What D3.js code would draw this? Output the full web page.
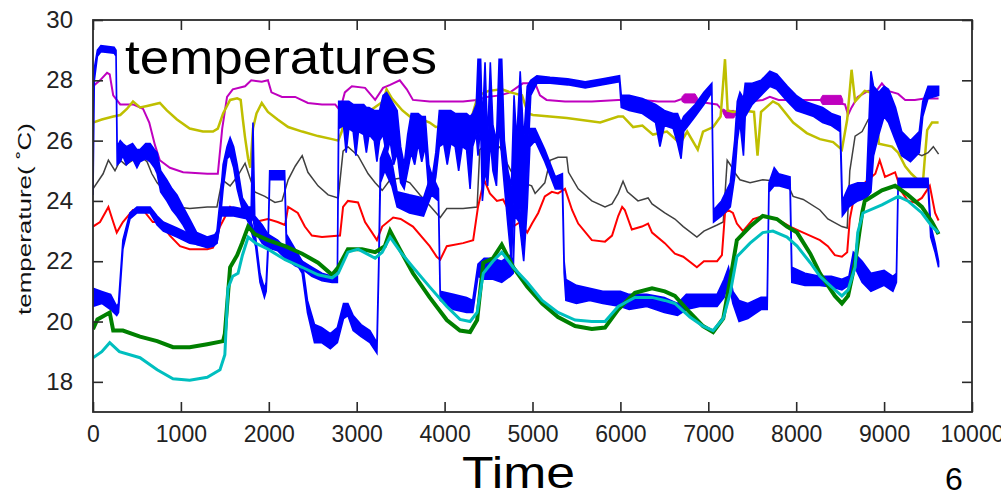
<!DOCTYPE html>
<html><head><meta charset="utf-8">
<script src="https://cdn.jsdelivr.net/npm/d3@7"></script>
<style>body{margin:0;background:#fff;} svg{display:block;font-family:"Liberation Sans",Arial,sans-serif;}</style>
</head><body>
<svg id="c" width="1001" height="497"></svg>
<script>
// ---------- data (time, temperature) ----------
const xTicks = [0,1000,2000,3000,4000,5000,6000,7000,8000,9000,10000];
const yTicks = [18,20,22,24,26,28,30];
const xDomain = [0,10000];
const yDomain = [17,30];

const cyan = [[0,18.8],[100,19.0],[190,19.3],[300,19.0],[535,18.8],[730,18.4],[910,18.1],[1100,18.05],[1300,18.15],[1445,18.4],[1500,18.9],[1535,21.1],[1590,21.5],[1650,21.6],[1700,22.2],[1765,22.8],[1850,22.6],[1990,22.4],[2185,22.05],[2380,21.8],[2560,21.55],[2720,21.45],[2790,21.6],[2900,22.3],[3015,22.4],[3210,22.1],[3290,22.3],[3380,22.8],[3500,22.3],[3640,21.8],[3830,21.15],[4025,20.5],[4175,20.07],[4290,20.0],[4370,20.3],[4440,21.6],[4550,22.0],[4650,22.3],[4780,21.8],[4940,21.3],[5110,20.7],[5290,20.3],[5485,20.05],[5675,20.0],[5825,20.0],[5975,20.5],[6165,20.8],[6360,20.8],[6505,20.7],[6620,20.6],[6790,20.15],[6940,19.85],[7055,19.7],[7170,20.1],[7250,20.95],[7325,22.15],[7475,22.6],[7620,22.95],[7735,23.0],[7895,22.8],[8010,22.5],[8160,21.95],[8270,21.5],[8440,21.05],[8520,20.85],[8590,21.05],[8670,21.8],[8700,22.95],[8760,23.6],[8975,23.87],[9160,24.15],[9270,24.0],[9430,23.6],[9545,23.15],[9620,22.95]];

const green = [[0,19.75],[50,20.07],[190,20.3],[230,19.7],[340,19.7],[535,19.5],[730,19.35],[910,19.15],[1100,19.15],[1300,19.25],[1480,19.35],[1500,19.6],[1560,21.8],[1640,22.2],[1695,22.6],[1765,23.15],[1840,22.9],[1990,22.7],[2185,22.5],[2380,22.25],[2560,21.95],[2720,21.55],[2790,21.8],[2900,22.4],[3060,22.4],[3210,22.3],[3320,22.5],[3380,23.0],[3490,22.4],[3640,21.6],[3830,20.8],[4025,20.05],[4175,19.7],[4290,19.65],[4370,20.05],[4440,21.95],[4550,22.1],[4650,22.55],[4780,21.8],[4940,21.15],[5110,20.6],[5290,20.15],[5485,19.85],[5675,19.75],[5825,19.8],[5975,20.4],[6165,20.95],[6360,21.1],[6505,21.0],[6620,20.85],[6790,20.3],[6940,19.85],[7055,19.65],[7170,20.1],[7250,21.4],[7325,22.7],[7475,23.15],[7620,23.5],[7780,23.4],[7895,23.15],[8010,22.95],[8160,22.25],[8270,21.6],[8440,20.85],[8520,20.6],[8590,20.85],[8670,21.95],[8750,23.6],[8780,24.0],[8975,24.35],[9125,24.5],[9270,24.2],[9430,23.8],[9545,23.3],[9620,22.9]];

const red = [[0,23.15],[80,23.3],[175,23.8],[230,23.3],[270,22.95],[340,23.3],[455,23.7],[570,23.7],[680,23.3],[760,23.3],[875,22.85],[990,22.5],[1100,22.4],[1300,22.4],[1365,22.45],[1445,23.15],[1560,23.8],[1640,23.6],[1730,23.8],[1840,23.3],[1990,23.4],[2100,23.3],[2185,23.2],[2220,23.8],[2330,23.6],[2410,23.15],[2490,22.85],[2605,22.8],[2810,22.85],[2845,23.8],[2900,24.0],[3015,23.95],[3095,23.3],[3175,22.95],[3230,22.7],[3290,23.15],[3415,23.45],[3500,23.4],[3640,23.15],[3830,22.5],[3910,22.15],[3950,22.05],[4025,22.5],[4210,22.6],[4325,22.7],[4380,23.8],[4450,24.7],[4515,24.25],[4595,24.0],[4665,24.05],[4710,23.8],[4780,23.15],[4860,23.3],[4940,22.95],[4995,23.25],[5065,23.6],[5140,24.15],[5220,24.3],[5290,24.25],[5370,24.4],[5450,23.7],[5520,23.25],[5675,22.7],[5825,22.65],[5905,22.85],[5975,23.5],[6020,23.8],[6050,23.7],[6130,23.05],[6245,23.15],[6315,23.25],[6360,22.95],[6505,22.6],[6620,22.25],[6715,22.15],[6870,21.8],[6950,22.0],[7100,22.0],[7155,22.2],[7190,23.6],[7225,23.7],[7280,23.6],[7325,23.25],[7395,23.0],[7510,23.4],[7620,23.5],[7780,23.4],[7930,23.15],[8080,22.95],[8270,22.7],[8360,22.5],[8440,22.2],[8520,22.15],[8580,22.3],[8610,23.4],[8670,24.3],[8780,24.6],[8900,24.9],[8950,25.35],[9010,24.8],[9125,24.95],[9200,24.3],[9270,24.0],[9350,23.95],[9430,24.1],[9520,24.5],[9580,23.6],[9620,23.35]];

const gray = [[0,24.4],[115,24.9],[175,25.35],[250,25.0],[310,25.35],[370,25.2],[535,25.5],[615,25.3],[670,24.9],[730,24.6],[840,24.25],[955,23.8],[1100,23.75],[1300,23.8],[1410,23.8],[1470,24.7],[1560,24.5],[1640,24.8],[1730,25.25],[1840,24.3],[1955,24.15],[2070,23.95],[2150,24.0],[2220,24.7],[2300,25.15],[2380,25.5],[2445,24.95],[2560,24.5],[2675,24.2],[2790,24.1],[2845,25.65],[2900,25.8],[3015,25.5],[3130,24.9],[3210,24.6],[3290,24.35],[3380,24.7],[3490,24.75],[3605,24.6],[3720,24.2],[3830,23.85],[3950,23.45],[4025,23.75],[4210,23.75],[4370,23.8],[4400,25.7],[4480,25.9],[4550,25.6],[4630,25.8],[4710,25.25],[4780,24.85],[4890,24.6],[4990,24.5],[5030,24.25],[5140,24.6],[5200,25.35],[5290,25.45],[5390,25.45],[5410,24.95],[5520,24.4],[5675,24.0],[5825,23.8],[5905,23.9],[5975,24.25],[6030,24.65],[6080,24.3],[6200,24.0],[6315,24.1],[6360,23.9],[6505,23.6],[6620,23.4],[6715,23.15],[6870,22.8],[6950,23.0],[7100,23.2],[7170,23.3],[7215,25.35],[7250,25.2],[7310,24.9],[7360,24.7],[7475,24.6],[7620,24.7],[7780,24.65],[7895,24.6],[7965,24.15],[8080,24.05],[8270,23.7],[8360,23.4],[8520,23.15],[8580,23.1],[8610,25.0],[8670,26.15],[8750,26.3],[8820,26.7],[8975,26.9],[9045,26.75],[9125,26.5],[9240,25.9],[9350,25.6],[9430,25.5],[9500,25.6],[9560,25.8],[9620,25.55]];

const magenta = [[0,27.8],[80,28.0],[160,28.25],[190,28.2],[230,27.5],[310,27.2],[455,27.2],[570,27.05],[640,26.6],[705,25.85],[760,25.35],[875,25.1],[1025,24.95],[1300,24.9],[1420,24.9],[1470,26.4],[1525,27.45],[1590,27.7],[1730,27.8],[1800,28.0],[1920,27.95],[1990,28.0],[2030,27.6],[2150,27.45],[2300,27.45],[2445,27.25],[2605,27.2],[2755,27.2],[2810,27.0],[2865,27.6],[2945,27.8],[3095,27.75],[3210,27.35],[3300,27.75],[3380,27.85],[3490,28.0],[3570,27.7],[3640,27.35],[3830,27.3],[4025,27.3],[4210,27.3],[4370,27.35],[4480,27.45],[4630,27.5],[4745,27.6],[4890,27.9],[5030,27.9],[5085,27.5],[5160,27.35],[5370,27.3],[5675,27.3],[5975,27.35],[6245,27.35],[6430,27.3],[6620,27.3],[6720,27.4],[6870,27.3],[7100,27.2],[7160,27.0],[7200,26.85],[7300,26.85],[7360,27.1],[7475,27.3],[7620,27.35],[7700,27.45],[7800,27.35],[8000,27.35],[8200,27.35],[8300,27.35],[8555,27.2],[8590,26.85],[8630,27.1],[8700,27.45],[8820,27.65],[8900,27.6],[8975,27.9],[9045,27.65],[9160,27.55],[9240,27.35],[9350,27.35],[9460,27.4],[9620,27.4]];
// thick noisy stretches of the magenta trace: [time, low, high]
const magentaPatchA = [[6700,27.3,27.45],[6730,27.25,27.55],[6850,27.25,27.55],[6880,27.3,27.4]];
const magentaPatchB = [[7170,26.9,27.05],[7200,26.75,27.0],[7290,26.75,27.0],[7310,26.85,26.95]];
const magentaPatchC = [[8280,27.3,27.4],[8300,27.2,27.5],[8510,27.2,27.5],[8530,27.25,27.35]];

const olive = [[0,26.6],[100,26.7],[230,26.8],[310,26.85],[385,27.05],[455,27.3],[535,27.1],[615,27.15],[760,27.25],[840,27.0],[955,26.7],[1100,26.4],[1250,26.3],[1365,26.3],[1420,26.4],[1480,26.9],[1560,27.35],[1640,27.4],[1680,27.35],[1705,26.7],[1730,26.1],[1765,25.4],[1790,25.1],[1820,26.4],[1860,26.9],[1920,27.25],[1990,26.95],[2100,26.7],[2220,26.45],[2380,26.3],[2560,26.15],[2720,26.05],[2790,26.0],[2830,26.3],[2865,26.75],[2945,26.9],[3015,26.9],[3130,26.95],[3300,27.3],[3340,27.7],[3400,27.4],[3520,27.0],[3605,26.8],[3700,26.75],[3830,26.6],[3900,26.45],[4100,26.5],[4290,26.6],[4380,27.5],[4500,27.65],[4650,27.7],[4750,27.6],[4880,27.5],[4950,26.9],[5005,26.85],[5390,26.75],[5770,26.6],[5975,26.8],[6030,26.8],[6145,26.45],[6250,26.5],[6370,26.2],[6530,26.3],[6680,25.9],[6760,26.3],[6880,25.7],[6940,26.3],[7055,26.45],[7140,26.8],[7190,28.7],[7220,27.0],[7280,26.95],[7400,27.0],[7520,26.95],[7560,25.5],[7600,26.95],[7735,27.3],[7800,27.2],[7965,26.6],[8120,26.25],[8270,26.05],[8420,25.95],[8520,25.7],[8580,26.7],[8630,28.35],[8670,27.3],[8780,27.65],[8900,27.55],[8940,25.9],[9090,25.8],[9160,25.6],[9240,25.15],[9310,24.9],[9385,24.7],[9440,24.55],[9460,25.3],[9490,26.35],[9545,26.6],[9620,26.6]];

// noisy blue traces: [time, low, high]
const blueA = [[0,24.2,24.5],[15,28.0,28.4],[50,28.8,29.0],[90,28.95,29.15],[240,28.9,29.1],[262,28.8,29.0],[275,25.2,25.8],[310,25.3,26.0],[340,25.5,25.9],[380,25.2,25.8],[450,25.4,25.9],[500,25.1,25.7],[535,25.3,25.7],[600,25.4,25.9],[650,25.3,25.9],[700,25.1,25.7],[730,24.9,25.6],[770,24.3,25.0],[840,24.0,24.7],[900,23.7,24.4],[955,23.5,24.2],[1025,23.2,23.8],[1100,22.8,23.4],[1180,22.55,22.95],[1300,22.45,22.8],[1370,22.5,22.8],[1410,22.6,23.0],[1445,23.3,24.0],[1480,24.4,25.2],[1525,25.4,25.8],[1560,25.5,26.1],[1600,25.1,25.8],[1640,24.4,25.2],[1700,23.7,24.1],[1765,23.3,23.8],[1800,23.3,23.8],[1820,23.5,26.6],[1840,23.0,23.5],[1925,22.6,23.2],[1990,22.45,22.9],[2100,22.35,22.7],[2185,22.1,22.45],[2300,21.85,22.2],[2380,21.75,22.0],[2490,21.5,21.8],[2605,21.35,21.6],[2720,21.3,21.5],[2780,21.3,21.6],[2795,26.4,27.3],[2850,26.5,27.3],[2880,25.6,27.3],[2910,26.4,27.3],[2960,26.3,27.2],[2990,25.5,27.2],[3020,26.3,27.2],[3080,26.2,27.2],[3110,25.6,27.1],[3140,26.2,27.1],[3200,26.0,27.0],[3230,25.3,27.0],[3260,26.0,27.0],[3300,26.2,27.5],[3340,25.5,27.6],[3380,26.0,27.4],[3420,25.2,27.2],[3460,25.6,27.0],[3500,24.6,25.8],[3540,24.4,25.2],[3580,25.0,26.2],[3620,25.6,26.9],[3660,25.2,26.9],[3700,25.9,26.9],[3740,25.3,26.8],[3780,25.8,26.8],[3820,24.3,25.2],[3860,24.2,24.8],[3900,24.8,25.6],[3940,25.8,27.0],[3990,25.9,27.0],[4030,25.2,27.0],[4070,25.9,27.0],[4120,25.8,26.9],[4160,25.0,26.9],[4200,25.8,26.9],[4250,25.7,26.9],[4290,24.4,26.8],[4320,25.8,26.9],[4360,26.2,27.2],[4380,25.5,28.7],[4410,26.5,28.7],[4430,24.0,26.5],[4460,25.0,28.6],[4490,24.5,26.0],[4520,26.0,28.6],[4550,25.0,26.5],[4590,24.5,26.0],[4620,26.5,28.7],[4650,25.5,28.7],[4680,24.5,26.0],[4720,23.2,25.0],[4760,22.0,24.5],[4790,24.0,27.5],[4820,23.5,26.0],[4860,24.0,28.3],[4900,22.5,26.0],[4940,25.0,27.8],[4980,27.5,28.0],[5050,27.9,28.15],[5200,27.9,28.1],[5400,27.85,28.05],[5600,27.75,27.95],[5800,27.85,28.05],[5990,27.95,28.15],[6010,27.1,27.5],[6100,27.0,27.5],[6250,26.9,27.4],[6400,26.6,27.2],[6450,25.8,27.1],[6500,26.5,27.0],[6600,26.4,26.9],[6650,25.9,26.9],[6690,25.4,26.6],[6720,26.3,26.8],[6850,26.8,27.2],[6950,27.2,27.6],[7040,27.6,27.9],[7060,23.3,23.7],[7150,23.5,24.0],[7250,23.8,24.6],[7300,24.8,26.0],[7330,26.0,27.3],[7360,26.6,27.6],[7400,25.5,27.4],[7420,26.8,27.9],[7500,27.2,27.9],[7600,27.5,28.0],[7700,27.8,28.3],[7780,27.7,28.2],[7900,27.3,27.8],[8000,27.0,27.5],[8100,26.9,27.3],[8200,26.8,27.2],[8300,26.6,27.1],[8400,26.5,26.9],[8500,26.3,26.8],[8525,23.5,24.0],[8600,23.8,24.5],[8700,24.0,24.6],[8800,24.1,24.6],[8850,24.3,28.3],[8880,25.5,27.8],[8940,26.2,27.6],[9000,26.8,27.8],[9050,26.6,27.7],[9130,26.0,27.1],[9200,25.5,26.3],[9300,25.3,26.0],[9400,25.6,26.3],[9440,26.8,27.3],[9500,27.4,27.8],[9620,27.5,27.8]];

const blueB = [[0,20.5,21.1],[100,20.6,21.0],[200,20.4,20.9],[270,20.2,20.5],[290,20.3,20.6],[340,22.4,22.7],[420,23.4,23.6],[500,23.6,23.8],[650,23.6,23.8],[730,23.2,23.5],[800,23.0,23.3],[955,22.8,23.1],[1100,22.6,22.9],[1300,22.5,22.8],[1410,22.6,22.9],[1460,23.5,23.8],[1600,23.5,23.8],[1760,23.4,23.7],[1850,22.5,22.8],[1900,21.3,21.6],[1950,20.8,21.1],[1970,21.0,21.3],[1990,22.2,22.5],[2010,24.7,25.0],[2180,24.7,25.0],[2200,22.5,22.9],[2300,22.0,22.4],[2380,21.6,22.0],[2440,20.3,20.7],[2520,19.3,19.9],[2600,19.3,19.8],[2700,19.1,19.6],[2780,19.3,19.8],[2850,20.1,20.6],[2900,20.2,20.6],[2960,19.7,20.2],[3050,19.5,19.9],[3150,19.3,19.7],[3230,18.95,19.3],[3250,21.5,21.9],[3270,24.6,25.4],[3320,25.0,25.8],[3400,24.5,25.3],[3460,23.8,24.3],[3600,23.6,24.2],[3760,23.5,24.1],[3850,24.2,24.9],[3930,24.0,24.4],[3950,20.7,21.0],[4100,20.4,20.9],[4250,20.3,20.8],[4320,20.3,20.7],[4380,21.5,21.9],[4450,21.4,22.1],[4550,21.4,22.1],[4650,21.3,22.0],[4745,21.5,22.2],[4780,21.6,22.0],[4800,23.5,24.0],[4850,23.3,23.9],[4900,22.0,22.5],[4940,23.8,24.3],[4970,25.8,26.4],[5030,26.0,26.4],[5140,25.3,25.7],[5260,24.4,24.8],[5340,24.4,24.9],[5360,21.6,22.0],[5380,20.7,21.4],[5500,20.6,21.2],[5650,20.7,21.1],[5800,20.6,21.0],[6000,20.5,21.0],[6100,20.4,20.9],[6300,20.5,20.9],[6500,20.3,20.8],[6650,20.2,20.6],[6750,20.4,20.9],[6900,20.5,20.9],[7100,20.5,20.9],[7180,20.8,21.4],[7230,21.3,21.8],[7280,20.6,21.0],[7350,20.0,20.7],[7450,20.1,20.6],[7600,20.4,20.8],[7670,20.4,20.8],[7690,24.3,24.6],[7750,24.5,25.1],[7800,24.5,24.9],[7930,24.4,24.8],[7950,21.3,21.8],[8100,21.2,21.6],[8270,21.2,21.5],[8400,21.15,21.5],[8520,21.05,21.4],[8600,21.2,21.5],[8650,21.9,22.3],[8750,21.3,22.0],[8850,21.0,21.6],[9000,21.2,21.7],[9100,21.0,21.5],[9140,21.3,21.6],[9160,24.45,24.75],[9300,24.45,24.75],[9500,24.45,24.75],[9530,22.8,23.2],[9580,22.3,22.6],[9620,21.8,22.0]];

// ---------- drawing ----------
const L = 93, R = 972, T = 20, B = 412;
const svg = d3.select("#c");
const x = d3.scaleLinear().domain(xDomain).range([L, R]);
const y = d3.scaleLinear().domain(yDomain).range([B, T]);

svg.append("defs").append("clipPath").attr("id","clip")
  .append("rect").attr("x",L).attr("y",T).attr("width",R-L).attr("height",B-T);
const plot = svg.append("g").attr("clip-path","url(#clip)");

const line = d3.line().x(d=>x(d[0])).y(d=>y(d[1]));
const band = d3.area().x(d=>x(d[0])).y0(d=>y(d[1])).y1(d=>y(d[2]));

function drawLine(data, color, w){
  plot.append("path").datum(data).attr("d",line).attr("fill","none")
    .attr("stroke",color).attr("stroke-width",w).attr("stroke-linejoin","miter");
}
function drawBand(data, color, w){
  plot.append("path").datum(data).attr("d",band).attr("fill",color)
    .attr("stroke",color).attr("stroke-width",w).attr("stroke-linejoin","miter");
}

drawLine(magenta, "#bf00bf", 2);
[magentaPatchA, magentaPatchB, magentaPatchC].forEach(p=>drawBand(p, "#bf00bf", 1));
drawLine(olive, "#bfbf00", 2.5);
drawLine(gray, "#404040", 1.5);
drawLine(red, "#ff0000", 2);
drawBand(blueA, "#0000ff", 1.6);
drawBand(blueB, "#0000ff", 1.6);
drawLine(green, "#008000", 4);
drawLine(cyan, "#00bfbf", 3);

// frame + ticks
const axCol = "#2a2a2a";
const tickFont = 23;
const gx = svg.append("g").attr("transform",`translate(0,${B})`)
  .call(d3.axisBottom(x).tickValues(xTicks).tickSizeInner(-10).tickSizeOuter(0).tickPadding(14).tickFormat(d3.format("d")));
const gxt = svg.append("g").attr("transform",`translate(0,${T})`)
  .call(d3.axisTop(x).tickValues(xTicks).tickSizeInner(-10).tickSizeOuter(0).tickFormat(""));
const gy = svg.append("g").attr("transform",`translate(${L},0)`)
  .call(d3.axisLeft(y).tickValues(yTicks).tickSizeInner(-10).tickSizeOuter(0).tickPadding(20).tickFormat(d3.format("d")));
const gyr = svg.append("g").attr("transform",`translate(${R},0)`)
  .call(d3.axisRight(y).tickValues(yTicks).tickSizeInner(-10).tickSizeOuter(0).tickFormat(""));
[gx,gxt,gy,gyr].forEach(g=>{
  g.select(".domain").remove();
  g.selectAll(".tick line").attr("stroke",axCol).attr("stroke-width",1.6);
  g.selectAll("text").attr("fill","#222").attr("font-size",tickFont)
    .attr("font-family",'"Liberation Sans",Arial,sans-serif');
});
gx.selectAll("text").attr("dy","0.71em");
gy.selectAll("text").attr("font-size",24);
svg.append("rect").attr("x",L).attr("y",T).attr("width",R-L).attr("height",B-T)
  .attr("fill","none").attr("stroke",axCol).attr("stroke-width",1.8);

// texts
svg.append("text").attr("x",125).attr("y",74).attr("font-size",49)
  .attr("textLength",312).attr("lengthAdjust","spacingAndGlyphs").attr("fill","#000").text("temperatures");
svg.append("text").attr("transform","translate(31,219) rotate(-90)").attr("text-anchor","middle")
  .attr("font-size",19).attr("textLength",192).attr("lengthAdjust","spacingAndGlyphs").attr("fill","#111")
  .text("temperature( \u02DAC)");
svg.append("text").attr("x",462).attr("y",487.5).attr("font-size",44)
  .attr("textLength",113).attr("lengthAdjust","spacingAndGlyphs").attr("fill","#000").text("Time");
svg.append("text").attr("x",945).attr("y",490).attr("font-size",32).attr("fill","#000").text("6");
</script>
</body></html>
